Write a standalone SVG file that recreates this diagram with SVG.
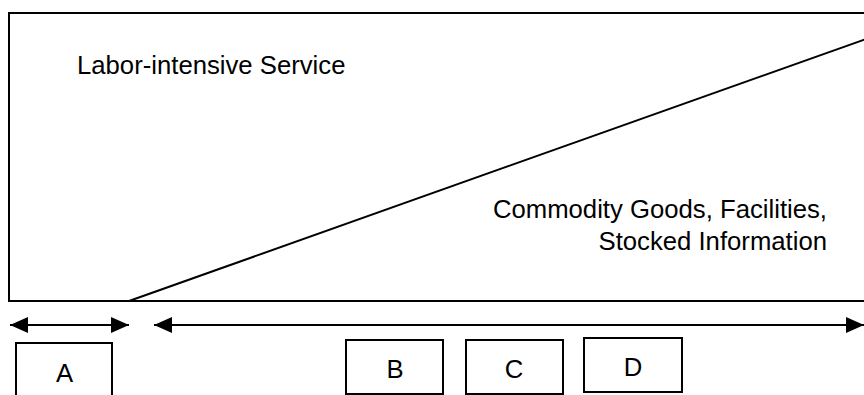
<svg xmlns="http://www.w3.org/2000/svg" width="864" height="395" viewBox="0 0 864 395">
<style>
.ln{stroke:#000;stroke-width:2;fill:none}
.bx{stroke:#000;stroke-width:2;fill:#fff}
.t{font-family:"Liberation Sans",Arial,sans-serif;font-size:25.7px;fill:#000}
</style>
<defs>
<marker id="ah" viewBox="0 0 10 10" refX="10" refY="5" markerWidth="9" markerHeight="8" markerUnits="strokeWidth" orient="auto-start-reverse" preserveAspectRatio="none">
<path d="M0,0 L10,5 L0,10 Z" fill="#000"/>
</marker>
</defs>
<g id="frame">
<rect x="9" y="13" width="870" height="288" class="ln"/>
<line x1="129" y1="301" x2="866" y2="39" class="ln"/>
<text class="t" x="77" y="74">Labor-intensive Service</text>
<text class="t" x="827" y="218" text-anchor="end">Commodity Goods, Facilities,</text>
<text class="t" x="827" y="250" text-anchor="end">Stocked Information</text>
</g>
<g id="connectors">
<line x1="10" y1="325" x2="129" y2="325" class="ln" marker-start="url(#ah)" marker-end="url(#ah)"/>
<line x1="154" y1="325" x2="864" y2="325" class="ln" marker-start="url(#ah)" marker-end="url(#ah)"/>
</g>
<g id="A">
<rect x="16" y="343" width="96" height="60" class="bx"/>
<text class="t" x="64.5" y="382" text-anchor="middle">A</text>
</g>
<g id="B">
<rect x="346" y="340" width="97" height="54" class="bx"/>
<text class="t" x="395" y="378" text-anchor="middle">B</text>
</g>
<g id="C">
<rect x="466" y="340" width="97" height="54" class="bx"/>
<text class="t" x="514" y="378" text-anchor="middle">C</text>
</g>
<g id="D">
<rect x="584" y="338" width="98" height="54" class="bx"/>
<text class="t" x="633" y="376" text-anchor="middle">D</text>
</g>
</svg>
